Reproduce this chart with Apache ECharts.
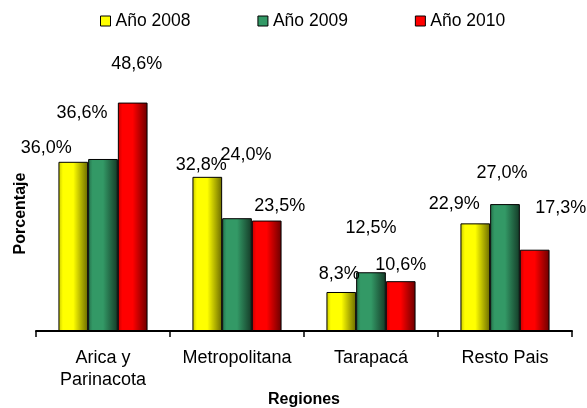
<!DOCTYPE html>
<html>
<head>
<meta charset="utf-8">
<script src="https://cdn.jsdelivr.net/npm/echarts@6/dist/echarts.min.js"></script>
<style>
  html, body { margin: 0; padding: 0; background: #fff; }
  #chart { width: 587px; height: 408px; }
</style>
</head>
<body>
<div id="chart"></div>
<script>
// datos
var regiones = ['Arica y\nParinacota', 'Metropolitana', 'Tarapacá', 'Resto Pais']
var anios = ['Año 2008', 'Año 2009', 'Año 2010']
var valores2008 = [36.0, 32.8, 8.3, 22.9]
var valores2009 = [36.6, 24.0, 12.5, 27.0]
var valores2010 = [48.6, 23.5, 10.6, 17.3]

// desplazamiento de las etiquetas (como quedaron en el original)
var offsets2008 = [[-27, 0], [-6, 2], [-2, -4], [-21, -5]]
var offsets2009 = [[-21, -32], [9, -49], [0, -30], [-3, -17]]
var offsets2010 = [[4, -25], [13, -1], [0, -2], [26, -28]]

var font = 'Liberation Sans, Arial, sans-serif'

function grad(c0, c1, c2) {
  return new echarts.graphic.LinearGradient(0, 0, 1, 0, [
    { offset: 0, color: c0 },
    { offset: 0.15, color: c1 },
    { offset: 0.5, color: c1 },
    { offset: 1, color: c2 }
  ])
}

var colores = [
  { solid: '#ffff00', fill: grad('#c8c800', '#ffff00', '#6a6a00') },
  { solid: '#339966', fill: grad('#24704a', '#339966', '#143a27') },
  { solid: '#ff0000', fill: grad('#c40000', '#ff0000', '#6a0000') }
]

function serie(i, valores, offs) {
  return {
    name: anios[i],
    type: 'bar',
    barGap: '0%',
    barCategoryGap: '33.5%',
    itemStyle: {
      color: colores[i].fill,
      borderColor: '#000',
      borderWidth: 1
    },
    label: {
      show: true,
      position: 'top',
      distance: 5,
      fontFamily: font,
      fontSize: 18,
      color: '#000',
      formatter: function (p) {
        return p.value.toFixed(1).replace('.', ',') + '%'
      }
    },
    data: valores.map(function (v, k) {
      return { value: v, label: { offset: offs[k] } }
    })
  }
}

var chart = echarts.init(document.getElementById('chart'))
chart.setOption({
  animation: false,
  legend: {
    left: 95,
    top: 7,
    itemWidth: 10,
    itemHeight: 10,
    itemGap: 67,
    textStyle: { fontFamily: font, fontSize: 17.5, color: '#000' },
    data: anios.map(function (n, i) {
      return {
        name: n,
        icon: 'rect',
        itemStyle: { color: colores[i].solid, borderColor: '#000', borderWidth: 1 }
      }
    })
  },
  grid: { left: 36, right: 15, top: 96, bottom: 77, outerBoundsMode: 'none' },
  xAxis: {
    type: 'category',
    data: regiones,
    name: 'Regiones',
    nameLocation: 'middle',
    nameGap: 61,
    nameMoveOverlap: false,
    nameTextStyle: { fontFamily: font, fontSize: 16, fontWeight: 'bold', color: '#000' },
    axisLine: { lineStyle: { color: '#000', width: 2 } },
    axisTick: { show: true, length: 6, lineStyle: { color: '#000', width: 1.5 } },
    axisLabel: {
      margin: 16,
      fontFamily: font,
      fontSize: 18,
      lineHeight: 22,
      color: '#000',
      interval: 0
    }
  },
  yAxis: {
    type: 'value',
    min: 0,
    max: 50,
    name: 'Porcentaje',
    nameLocation: 'middle',
    nameGap: 7,
    nameTextStyle: { fontFamily: font, fontSize: 16, fontWeight: 'bold', color: '#000' },
    axisLine: { show: false },
    axisTick: { show: false },
    axisLabel: { show: false },
    splitLine: { show: false }
  },
  series: [
    serie(0, valores2008, offsets2008),
    serie(1, valores2009, offsets2009),
    serie(2, valores2010, offsets2010)
  ]
})
</script>
</body>
</html>
